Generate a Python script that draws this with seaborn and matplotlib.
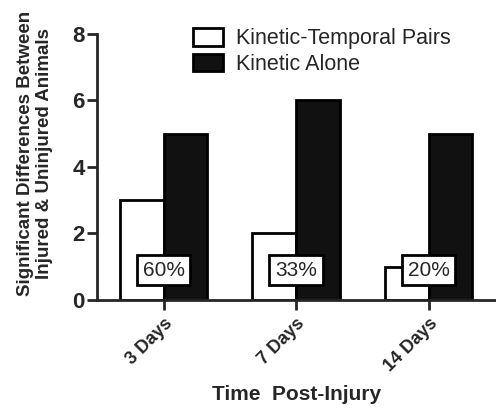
import numpy as np
import pandas as pd
import matplotlib
matplotlib.use("Agg")
import matplotlib.pyplot as plt
import seaborn as sns

# data
days = ["3 Days", "7 Days", "14 Days"]
kinetic_temporal = [3, 2, 1]
kinetic_alone = [5, 6, 5]
pct_labels = ["60%", "33%", "20%"]
series = ["Kinetic-Temporal Pairs", "Kinetic Alone"]

df = pd.DataFrame({
    "day": days * 2,
    "value": kinetic_temporal + kinetic_alone,
    "series": [series[0]] * 3 + [series[1]] * 3,
})

sns.set_style("ticks")
plt.rcParams["font.family"] = ["Liberation Sans", "DejaVu Sans"]

fig = plt.figure(figsize=(4.96, 4.09), dpi=100)
ax = fig.add_axes([0.196, 0.2665, 0.802, 0.6505])

sns.barplot(data=df, x="day", y="value", hue="series", order=days,
            hue_order=series, palette=["white", "#111111"], width=0.66,
            edgecolor="black", linewidth=2, saturation=1, ax=ax)

# percentage boxes at each group centre
for i, lab in enumerate(pct_labels):
    ax.text(i, 0.9, lab, ha="center", va="center", fontsize=15, zorder=5,
            bbox=dict(boxstyle="square,pad=0.28", facecolor="white",
                      edgecolor="black", linewidth=2))

ax.set_ylim(0, 8)
ax.set_xlim(-0.5, 2.5)
ax.set_yticks([0, 2, 4, 6, 8])
sns.despine(ax=ax)
for s in ["left", "bottom"]:
    ax.spines[s].set_linewidth(2)
ax.tick_params(axis="both", width=2, length=7)
ax.tick_params(axis="y", labelsize=16, pad=2)
ax.tick_params(axis="x", labelsize=13, pad=4)
for t in ax.get_yticklabels():
    t.set_fontweight("bold")
for t in ax.get_xticklabels():
    t.set_fontweight("bold")
    t.set_rotation(45)
    t.set_ha("right")
    t.set_rotation_mode("anchor")

ax.set_xlabel("Time  Post-Injury", fontsize=15, fontweight="bold")
ax.xaxis.set_label_coords(0.5, -0.32)
ax.set_ylabel("Significant Differences Between\nInjured & Uninjured Animals",
              fontsize=13.5, fontweight="bold", linespacing=1.2)
ax.yaxis.set_label_coords(-0.11, 0.55)

leg = ax.legend(loc="upper left", bbox_to_anchor=(0.367, 0.958),
                bbox_transform=fig.transFigure, frameon=False, borderpad=0,
                fontsize=15.5, handlelength=1.4, handleheight=0.9,
                handletextpad=0.6, labelspacing=0.2)

fig.savefig("out.png", dpi=100)
